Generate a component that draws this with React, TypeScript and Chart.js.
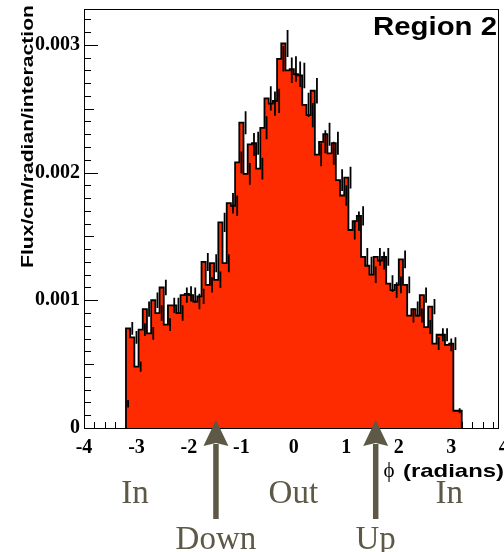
import React, { useEffect, useRef } from 'react';
import { Chart, registerables } from 'chart.js';

Chart.register(...registerables);

// Histogram range (radians) and per-bin flux (units of 1e-3 flux/cm/radian/interaction)
const HIST_MIN = -3.2;
const HIST_MAX = 3.2;
const UNIT = 1e-3;
const fluxE3 = [
  0.19, 0.78, 0.71, 0.48, 0.77, 0.93, 0.74, 1.0, 0.9, 1.1,
  0.81, 0.96, 0.96, 0.9, 1.04, 1.05, 1.04, 0.99, 1.03, 1.3,
  1.12, 1.29, 1.16, 1.61, 1.29, 1.76, 1.74, 2.08, 2.39, 1.99,
  2.22, 2.23, 2.03, 2.35, 2.58, 2.54, 2.56, 2.89, 3.01, 2.8,
  2.81, 2.77, 2.76, 2.53, 2.45, 2.64, 2.14, 2.24, 2.3, 2.15,
  2.23, 1.94, 1.82, 1.96, 1.55, 1.62, 1.66, 1.34, 1.27, 1.2,
  1.34, 1.31, 1.34, 1.13, 1.08, 1.12, 1.32, 1.12, 0.88, 0.93,
  0.88, 1.04, 0.79, 0.95, 0.66, 0.73, 0.73, 0.65, 0.66, 0.135,
];
const errE3 = [
  0.03, 0.05, 0.05, 0.04, 0.05, 0.06, 0.05, 0.06, 0.06, 0.06,
  0.05, 0.06, 0.06, 0.06, 0.06, 0.06, 0.06, 0.06, 0.06, 0.07,
  0.06, 0.07, 0.065, 0.075, 0.07, 0.08, 0.08, 0.085, 0.09, 0.085,
  0.09, 0.09, 0.085, 0.09, 0.095, 0.095, 0.095, 0.1, 0.105, 0.1,
  0.1, 0.1, 0.1, 0.095, 0.095, 0.1, 0.09, 0.09, 0.09, 0.09,
  0.09, 0.085, 0.08, 0.085, 0.075, 0.075, 0.075, 0.07, 0.07, 0.065,
  0.07, 0.07, 0.07, 0.065, 0.06, 0.065, 0.07, 0.065, 0.055, 0.06,
  0.055, 0.06, 0.055, 0.06, 0.05, 0.05, 0.05, 0.05, 0.05, 0.02,
];

const xTickValues = [-4, -3, -2, -1, 0, 1, 2, 3, 4];
const yTickValues = [0, 0.001, 0.002, 0.003];
const yTickLabels = ['0', '0.001', '0.002', '0.003'];

const regionLabels = ['In', 'Out', 'In'];
const regionLabelPhi = [-3.03, -0.01, 2.96];
const arrowLabels = ['Down', 'Up'];
const arrowPhi = [-1.485, 1.56];

const Y_TITLE = 'Flux/cm/radian/interaction';
const X_TITLE_SYM = 'ϕ';
const X_TITLE = '(radians)';
const LEGEND_TEXT = 'Region 2';

const FILL = '#ff2b00';
const ANN = '#5e5946';

function buildHistogram() {
  const n = fluxE3.length;
  const w = (HIST_MAX - HIST_MIN) / n;
  const step: { x: number; y: number }[] = [{ x: HIST_MIN, y: 0 }];
  const errs: { x: number; y: number | null }[] = [];
  for (let i = 0; i < n; i++) {
    const lo = HIST_MIN + i * w;
    const v = fluxE3[i] * UNIT;
    const e = errE3[i] * UNIT;
    step.push({ x: lo, y: v });
    const c = lo + w / 2;
    errs.push({ x: c, y: v - e }, { x: c, y: v + e }, { x: c, y: null });
  }
  step.push({ x: HIST_MAX, y: fluxE3[n - 1] * UNIT });
  step.push({ x: HIST_MAX, y: 0 });
  return { step, errs };
}

function fitText(ctx: CanvasRenderingContext2D, text: string, font: string, left: number, right: number, baseline: number) {
  ctx.save();
  ctx.font = font;
  const w = ctx.measureText(text).width;
  ctx.translate(left, baseline);
  ctx.scale((right - left) / w, 1);
  ctx.textAlign = 'left';
  ctx.textBaseline = 'alphabetic';
  ctx.fillText(text, 0, 0);
  ctx.restore();
}

const rootStyle = {
  id: 'rootStyle',
  beforeDatasetsDraw(chart: any) {
    const { ctx, chartArea: a, scales } = chart;
    const x = scales.x;
    const y = scales.y;
    ctx.save();
    ctx.strokeStyle = '#000';
    ctx.lineWidth = 1;
    ctx.beginPath();
    for (let k = 0; k <= 32; k++) {
      const py = Math.round(y.getPixelForValue(k * 0.0001)) + 0.5;
      const len = k % 10 === 0 ? 14 : k % 5 === 0 ? 10 : 7;
      ctx.moveTo(a.left, py);
      ctx.lineTo(a.left + len, py);
    }
    for (let k = -20; k <= 19; k++) {
      const px = Math.round(x.getPixelForValue(k * 0.2)) + 0.5;
      const len = k % 5 === 0 ? 12 : 6;
      ctx.moveTo(px, a.bottom);
      ctx.lineTo(px, a.bottom - len);
    }
    ctx.stroke();
    ctx.restore();
  },
  afterDraw(chart: any) {
    const { ctx, chartArea: a, scales } = chart;
    const x = scales.x;
    ctx.save();
    // frame
    ctx.strokeStyle = '#000';
    ctx.lineWidth = 1;
    ctx.strokeRect(a.left + 0.5, a.top + 0.5, a.right - a.left - 1, a.bottom - a.top);

    ctx.fillStyle = '#000';
    // legend text
    fitText(ctx, LEGEND_TEXT, 'bold 25px "Liberation Sans", Arial, sans-serif', 373, 497, 35);
    // x title
    ctx.font = '21px "Liberation Serif", "DejaVu Serif", serif';
    ctx.textAlign = 'center';
    ctx.textBaseline = 'alphabetic';
    ctx.fillText(X_TITLE_SYM, 389, 477);
    fitText(ctx, X_TITLE, 'bold 19px "Liberation Sans", Arial, sans-serif', 403, 504, 477);
    // y title
    ctx.save();
    ctx.translate(33, 5);
    ctx.rotate(-Math.PI / 2);
    ctx.font = 'bold 16px "Liberation Sans", Arial, sans-serif';
    const tw = ctx.measureText(Y_TITLE).width;
    ctx.scale(263 / tw, 1);
    ctx.textAlign = 'right';
    ctx.textBaseline = 'alphabetic';
    ctx.fillText(Y_TITLE, 0, 0);
    ctx.restore();

    // annotations
    ctx.fillStyle = ANN;
    ctx.font = '33px "Liberation Serif", "Times New Roman", serif';
    ctx.textAlign = 'center';
    ctx.textBaseline = 'alphabetic';
    regionLabels.forEach((t, i) => ctx.fillText(t, x.getPixelForValue(regionLabelPhi[i]), 503));
    arrowLabels.forEach((t, i) => ctx.fillText(t, x.getPixelForValue(arrowPhi[i]), 549));
    arrowPhi.forEach((p) => {
      const cx = x.getPixelForValue(p);
      ctx.fillRect(cx - 2.75, 444, 5.5, 75);
      ctx.beginPath();
      ctx.moveTo(cx, 420);
      ctx.lineTo(cx - 12.5, 446);
      ctx.lineTo(cx, 443);
      ctx.lineTo(cx + 12.5, 446);
      ctx.closePath();
      ctx.fill();
    });
    ctx.restore();
  },
};

export default function App() {
  const ref = useRef<HTMLCanvasElement | null>(null);
  useEffect(() => {
    if (!ref.current) return;
    const { step, errs } = buildHistogram();
    const tickFont = { family: '"Liberation Serif", "Times New Roman", serif', size: 20, weight: 'bold' as const };
    const chart = new Chart(ref.current, {
      type: 'scatter',
      data: {
        datasets: [
          {
            data: errs as any,
            showLine: true,
            spanGaps: false,
            borderColor: '#000',
            borderWidth: 1.8,
            pointRadius: 0,
            fill: false,
            order: 1,
          } as any,
          {
            data: step,
            showLine: true,
            stepped: 'after',
            fill: 'origin',
            backgroundColor: FILL,
            borderColor: '#000',
            borderWidth: 1.8,
            pointRadius: 0,
            order: 2,
          } as any,
        ],
      },
      options: {
        animation: false,
        responsive: false,
        maintainAspectRatio: false,
        events: [],
        layout: { padding: { top: 9, right: 5, left: 0, bottom: 0 } },
        plugins: { legend: { display: false }, tooltip: { enabled: false } },
        scales: {
          x: {
            type: 'linear',
            min: -4,
            max: 3.91,
            grid: { display: false, drawTicks: false },
            border: { display: false },
            ticks: {
              font: tickFont,
              color: '#000',
              padding: 8,
              autoSkip: false,
              maxRotation: 0,
              callback: (v: any) => String(v),
            },
            afterBuildTicks: (axis: any) => {
              axis.ticks = xTickValues.map((value) => ({ value }));
            },
            afterFit: (axis: any) => {
              axis.height = 124;
              axis.paddingLeft = 0;
              axis.paddingRight = 0;
            },
          },
          y: {
            type: 'linear',
            min: 0,
            max: 0.00328,
            grid: { display: false, drawTicks: false },
            border: { display: false },
            ticks: {
              font: tickFont,
              color: '#000',
              padding: 4,
              autoSkip: false,
              callback: (v: any) => {
                const i = yTickValues.findIndex((t) => Math.abs(t - v) < 1e-9);
                return i >= 0 ? yTickLabels[i] : '';
              },
            },
            afterBuildTicks: (axis: any) => {
              axis.ticks = yTickValues.map((value) => ({ value }));
            },
            afterFit: (axis: any) => {
              axis.width = 84;
              axis.paddingTop = 0;
              axis.paddingBottom = 0;
            },
          },
        },
      } as any,
      plugins: [rootStyle],
    });
    return () => chart.destroy();
  }, []);
  return (
    <div style={{ position: 'fixed', left: 0, top: 0, width: 504, height: 552, background: '#fff' }}>
      <canvas ref={ref} width={504} height={552} style={{ width: 504, height: 552, display: 'block' }} />
    </div>
  );
}
